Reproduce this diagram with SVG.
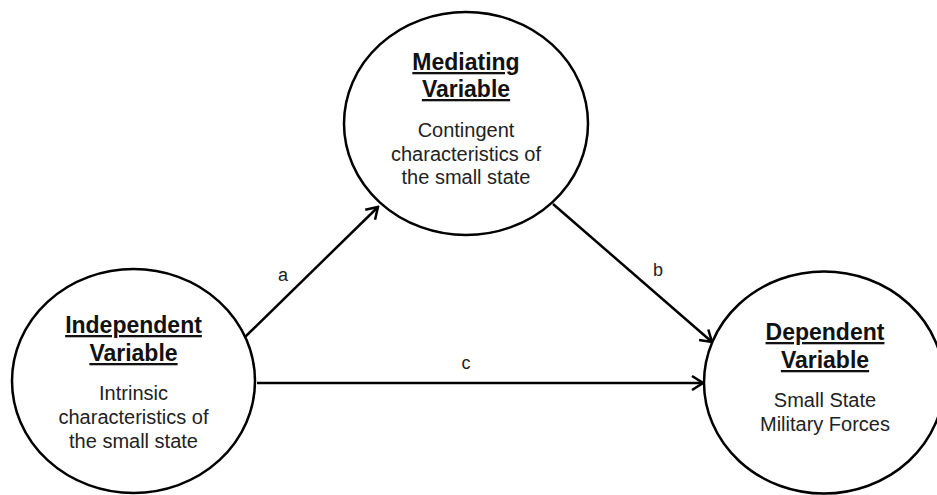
<svg xmlns="http://www.w3.org/2000/svg" width="937" height="495" viewBox="0 0 937 495">
<style>
.node ellipse{fill:#fff;stroke:#000;stroke-width:2.5}
.title{font-family:"Liberation Sans",Arial,sans-serif;font-size:23px;font-weight:bold;fill:#111;text-anchor:middle;text-decoration:underline}
.body{font-family:"Liberation Sans",Arial,sans-serif;font-size:20px;fill:#222;text-anchor:middle}
.lbl{font-family:"Liberation Sans",Arial,sans-serif;font-size:18px;fill:#222;text-anchor:middle}
.conn line{stroke:#000;stroke-width:2.5;fill:none}
</style>
<defs>
<marker id="arr" markerUnits="userSpaceOnUse" viewBox="-14 -8 16 16" refX="0" refY="0" markerWidth="16" markerHeight="16" orient="auto">
<polyline points="-11,-7 0,0 -11,7" fill="none" stroke="#000" stroke-width="2.5"/>
</marker>
</defs>
<rect width="937" height="495" fill="#fff"/>
<g id="connectors" class="conn">
<line x1="245" y1="337" x2="378" y2="207" marker-end="url(#arr)"/>
<line x1="553" y1="204" x2="712" y2="342" marker-end="url(#arr)"/>
<line x1="257" y1="383" x2="703" y2="383" marker-end="url(#arr)"/>
<text class="lbl" x="283" y="281">a</text>
<text class="lbl" x="658" y="276">b</text>
<text class="lbl" x="466" y="369">c</text>
</g>
<g id="mediating" class="node">
<ellipse cx="466" cy="123.5" rx="122" ry="111.5"/>
<text class="title" x="466" y="70">Mediating</text>
<text class="title" x="466" y="97">Variable</text>
<text class="body" x="466" y="137">Contingent</text>
<text class="body" x="466" y="161">characteristics of</text>
<text class="body" x="466" y="184">the small state</text>
</g>
<g id="independent" class="node">
<ellipse cx="133.5" cy="381" rx="121.5" ry="112"/>
<text class="title" x="133.5" y="333">Independent</text>
<text class="title" x="133.5" y="361">Variable</text>
<text class="body" x="133.5" y="400">Intrinsic</text>
<text class="body" x="133.5" y="424">characteristics of</text>
<text class="body" x="133.5" y="448">the small state</text>
</g>
<g id="dependent" class="node">
<ellipse cx="824" cy="382.5" rx="120" ry="111"/>
<text class="title" x="825" y="340">Dependent</text>
<text class="title" x="825" y="368">Variable</text>
<text class="body" x="825" y="407">Small State</text>
<text class="body" x="825" y="431">Military Forces</text>
</g>
</svg>
